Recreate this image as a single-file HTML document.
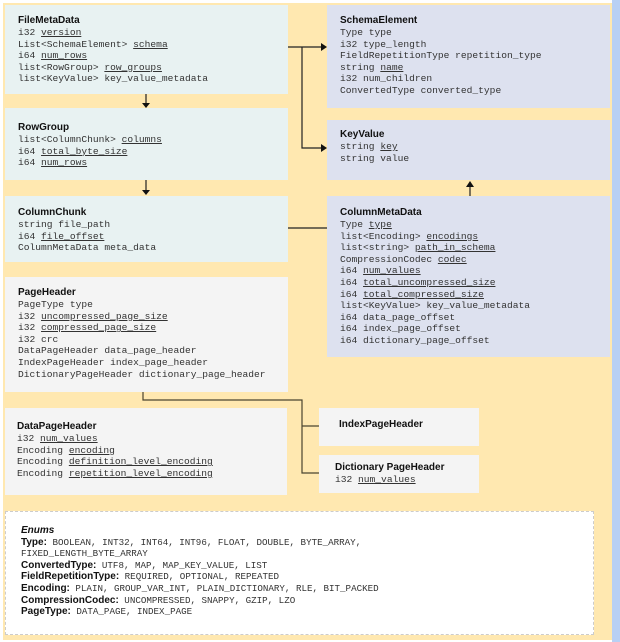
<!DOCTYPE html>
<html><head><meta charset="utf-8"><style>
*{margin:0;padding:0;box-sizing:border-box}
body{width:620px;height:642px;background:#fff;position:relative;overflow:hidden;font-family:"Liberation Mono",monospace;font-size:9.6px;color:#333}
.bg{position:absolute;left:3px;top:3px;width:610px;height:637px;background:#ffe8b0}
.blue{position:absolute;left:612px;top:0;width:8px;height:642px;background:#b8d0f4}
.b{position:absolute;padding:9px 0 0 13px;line-height:11.6px;white-space:pre}
.c{background:#e8f2f2}.l{background:#dde1ef}.g{background:#f4f4f4}
.t{font-family:"Liberation Sans",sans-serif;font-weight:bold;font-size:10px;color:#111;line-height:13px;margin-bottom:0}
u{text-decoration:underline;text-underline-offset:1px}
.e{position:absolute;left:5px;top:511px;width:589px;height:124px;background:#fff;border:1px dashed #ccc;padding:13px 0 0 15px;line-height:11.6px;font-size:9.2px}
.e b{font-family:"Liberation Sans",sans-serif;font-size:10px;color:#111}
svg{position:absolute;left:0;top:0}
</style></head><body>
<div class="bg"></div><div class="blue"></div>
<div class="b c" style="left:5px;top:5px;width:283px;height:89px"><div class="t">FileMetaData</div>i32 <u>version</u>
List&lt;SchemaElement&gt; <u>schema</u>
i64 <u>num_rows</u>
list&lt;RowGroup&gt; <u>row_groups</u>
list&lt;KeyValue&gt; key_value_metadata</div>
<div class="b c" style="left:5px;top:108px;width:283px;height:72px;padding-top:13px"><div class="t">RowGroup</div>list&lt;ColumnChunk&gt; <u>columns</u>
i64 <u>total_byte_size</u>
i64 <u>num_rows</u></div>
<div class="b c" style="left:5px;top:196px;width:283px;height:66px;padding-top:10px"><div class="t">ColumnChunk</div>string file_path
i64 <u>file_offset</u>
ColumnMetaData meta_data</div>
<div class="b g" style="left:5px;top:277px;width:283px;height:115px;padding-top:9px"><div class="t">PageHeader</div>PageType type
i32 <u>uncompressed_page_size</u>
i32 <u>compressed_page_size</u>
i32 crc
DataPageHeader data_page_header
IndexPageHeader index_page_header
DictionaryPageHeader dictionary_page_header</div>
<div class="b g" style="left:5px;top:408px;width:282px;height:87px;padding:12px 0 0 12px"><div class="t">DataPageHeader</div>i32 <u>num_values</u>
Encoding <u>encoding</u>
Encoding <u>definition_level_encoding</u>
Encoding <u>repetition_level_encoding</u></div>
<div class="b g" style="left:319px;top:408px;width:160px;height:38px;padding:10px 0 0 20px"><div class="t">IndexPageHeader</div></div>
<div class="b g" style="left:319px;top:455px;width:160px;height:38px;padding:6px 0 0 16px"><div class="t">Dictionary PageHeader</div>i32 <u>num_values</u></div>
<div class="b l" style="left:327px;top:5px;width:283px;height:103px"><div class="t">SchemaElement</div>Type type
i32 type_length
FieldRepetitionType repetition_type
string <u>name</u>
i32 num_children
ConvertedType converted_type</div>
<div class="b l" style="left:327px;top:120px;width:283px;height:60px;padding-top:8px"><div class="t">KeyValue</div>string <u>key</u>
string value</div>
<div class="b l" style="left:327px;top:196px;width:283px;height:161px;padding-top:10px"><div class="t">ColumnMetaData</div>Type <u>type</u>
list&lt;Encoding&gt; <u>encodings</u>
list&lt;string&gt; <u>path_in_schema</u>
CompressionCodec <u>codec</u>
i64 <u>num_values</u>
i64 <u>total_uncompressed_size</u>
i64 <u>total_compressed_size</u>
list&lt;KeyValue&gt; key_value_metadata
i64 data_page_offset
i64 index_page_offset
i64 dictionary_page_offset</div>
<div class="e"><b><i>Enums</i></b><br><b>Type:</b> BOOLEAN, INT32, INT64, INT96, FLOAT, DOUBLE, BYTE_ARRAY,<br>FIXED_LENGTH_BYTE_ARRAY<br><b>ConvertedType:</b> UTF8, MAP, MAP_KEY_VALUE, LIST<br><b>FieldRepetitionType:</b> REQUIRED, OPTIONAL, REPEATED<br><b>Encoding:</b> PLAIN, GROUP_VAR_INT, PLAIN_DICTIONARY, RLE, BIT_PACKED<br><b>CompressionCodec:</b> UNCOMPRESSED, SNAPPY, GZIP, LZO<br><b>PageType:</b> DATA_PAGE, INDEX_PAGE</div>
<svg width="620" height="642" viewBox="0 0 620 642">
<g stroke="#222" stroke-width="1.2" fill="none">
<path d="M146 94V104M146 180V191M288 47H302V148H322M302 47H322M470 196V186M288 228H327"/>
<path d="M143 392V400H302V473H319M302 426H319" stroke="#4a4430"/>
</g>
<g fill="#111">
<path d="M142 103L150 103L146 108Z"/><path d="M142 190L150 190L146 195Z"/>
<path d="M321 43L321 51L327 47Z"/><path d="M321 144L321 152L327 148Z"/>
<path d="M466 187L474 187L470 181Z"/>
</g></svg>
</body></html>
